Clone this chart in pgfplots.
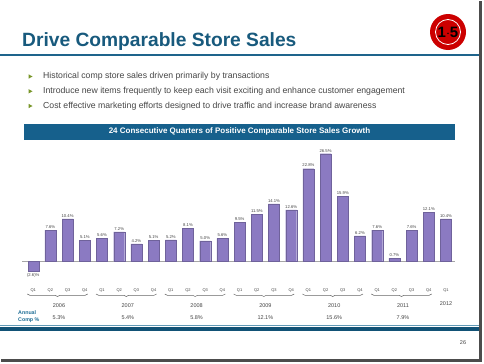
\documentclass[border=0pt]{standalone}
\usepackage{pgfplots}
\pgfplotsset{compat=1.18}
\usepackage{pgfplotstable}
\usepackage{fontspec}
\setmainfont{Liberation Sans}
\usetikzlibrary{decorations.pathreplacing}
\definecolor{titlecol}{RGB}{24,90,125}
\definecolor{rulecol}{RGB}{30,100,140}
\definecolor{headcol}{RGB}{22,96,140}
\definecolor{barcol}{RGB}{139,122,194}
\definecolor{compcol}{RGB}{30,110,150}
\definecolor{botcol}{RGB}{18,82,118}
\definecolor{bulcol}{RGB}{120,150,40}
\definecolor{txtgray}{RGB}{70,70,70}
\pgfplotstableread{
x y lab
1 7.6 7.6\%
2 10.4 10.4\%
3 5.1 5.1\%
4 5.6 5.6\%
5 7.2 7.2\%
6 4.2 4.2\%
7 5.1 5.1\%
8 5.2 5.2\%
9 8.1 8.1\%
10 5.0 5.0\%
11 5.6 5.6\%
12 9.5 9.5\%
13 11.5 11.5\%
14 14.1 14.1\%
15 12.6 12.6\%
16 22.8 22.8\%
17 26.5 26.5\%
18 15.9 15.9\%
19 6.2 6.2\%
20 7.6 7.6\%
21 0.7 0.7\%
22 7.6 7.6\%
23 12.1 12.1\%
24 10.4 10.4\%
}\comps
\pgfplotstableread{
x y lab
0 -2.6 (2.6)\%
}\compsneg
\begin{document}
\begin{tikzpicture}
\path[use as bounding box] (0,0) rectangle (484bp,-364bp);
\fill[white] (0,0) rectangle (484bp,-364bp);
% shadow frame
\fill[black!70] (478.5bp,-1bp) rectangle (482bp,-362bp);
\fill[black!70] (1bp,-358.5bp) rectangle (482bp,-362bp);
% title
\node[anchor=base west, inner sep=0pt, text=titlecol, font=\fontsize{19.2bp}{22bp}\selectfont\bfseries] at (22bp,-46bp) {Drive Comparable Store Sales};
\fill[rulecol] (0,-53.5bp) rectangle (478.5bp,-55.5bp);
% logo
\fill[red!80!black] (448bp,-32bp) circle (18bp);
\draw[white, line width=0.8bp] (448bp,-32bp) circle (12.5bp);
\node[font=\fontsize{15bp}{16bp}\selectfont\bfseries, text=black] at (448bp,-32bp) {1$\cdot$5};
% bullets
\foreach \yy/\t in {76.5/{Historical comp store sales driven primarily by transactions},
  91.3/{Introduce new items frequently to keep each visit exciting and enhance customer engagement},
  106/{Cost effective marketing efforts designed to drive traffic and increase brand awareness}}{
  \fill[bulcol] (28.5bp,-\yy bp+2.2bp) -- (28.5bp,-\yy bp-2.2bp) -- (32.5bp,-\yy bp) -- cycle;
  \node[anchor=west, inner sep=0pt, text=txtgray, font=\fontsize{8.7bp}{10bp}\selectfont] at (43bp,-\yy bp) {\t};
}
% header bar
\fill[headcol] (24bp,-124bp) rectangle (455bp,-139.5bp);
\node[text=white, font=\fontsize{8bp}{9bp}\selectfont\bfseries] at (239.5bp,-131.8bp) {24 Consecutive Quarters of Positive Comparable Store Sales Growth};
% chart
\begin{axis}[at={(22.02bp,-277.2bp)}, anchor=south west, scale only axis,
  width=433.44bp, height=131.6bp,
  xmin=-0.65, xmax=24.55, ymin=-4, ymax=28.5,
  axis x line=middle, axis y line=none, axis line style={-, black!35, line width=0.6bp},
  xtick=\empty, ytick=\empty,
  minor xtick={0.5,1.5,...,23.5}, minor tick length=2bp,
  every minor tick/.style={black!40, line width=0.5bp},
  clip=false]
\addplot[ybar, bar width=0.64, fill=barcol, draw=barcol!80!black, line width=0.3bp,
  point meta=explicit symbolic,
  nodes near coords, nodes near coords style={anchor=south, font=\fontsize{4.2bp}{4.5bp}\selectfont, text=txtgray, inner sep=1.5bp}]
  table[x=x, y=y, meta=lab] {\comps};
\addplot[ybar, bar width=0.64, fill=barcol, draw=barcol!80!black, line width=0.3bp,
  point meta=explicit symbolic,
  nodes near coords, nodes near coords style={anchor=north, font=\fontsize{4.2bp}{4.5bp}\selectfont, text=txtgray, inner sep=1.5bp}]
  table[x=x, y=y, meta=lab] {\compsneg};
\end{axis}
% quarter labels
\foreach \i in {0,...,24}{
  \pgfmathtruncatemacro\q{mod(\i,4)+1}
  \node[text=txtgray, font=\fontsize{4bp}{4bp}\selectfont] at ({(33.2+17.2*\i)*1bp},-290bp) {Q\q};
}
% braces, years, annual comps
\foreach \k/\yr/\ac in {0/2006/5.3, 1/2007/5.4, 2/2008/5.8, 3/2009/12.1, 4/2010/15.6, 5/2011/7.9}{
  \draw[black!60, line width=0.5bp, decorate, decoration={brace, mirror, amplitude=2.5bp}]
    ({(33.2+17.2*4*\k-6)*1bp},-294bp) -- ({(33.2+17.2*(4*\k+3)+3)*1bp},-294bp);
  \node[text=txtgray, font=\fontsize{5.5bp}{6bp}\selectfont] at ({(33.2+17.2*(4*\k+1.5))*1bp},-305.5bp) {\yr};
  \node[text=txtgray, font=\fontsize{5.5bp}{6bp}\selectfont] at ({(33.2+17.2*(4*\k+1.5))*1bp},-317.5bp) {\ac\%};
}
\node[text=txtgray, font=\fontsize{5.5bp}{6bp}\selectfont] at (446bp,-303.5bp) {2012};
\node[text=compcol, align=left, anchor=west, inner sep=0pt, font=\fontsize{5.3bp}{7bp}\selectfont\bfseries] at (18bp,-316.5bp) {Annual\\Comp \%};
% bottom rule
\fill[compcol!70] (0,-325bp) rectangle (478.5bp,-326bp);
\fill[botcol] (0,-326.5bp) rectangle (478.5bp,-331bp);
\node[text=txtgray, font=\fontsize{5.5bp}{6bp}\selectfont] at (463bp,-343bp) {26};
\end{tikzpicture}
\end{document}
